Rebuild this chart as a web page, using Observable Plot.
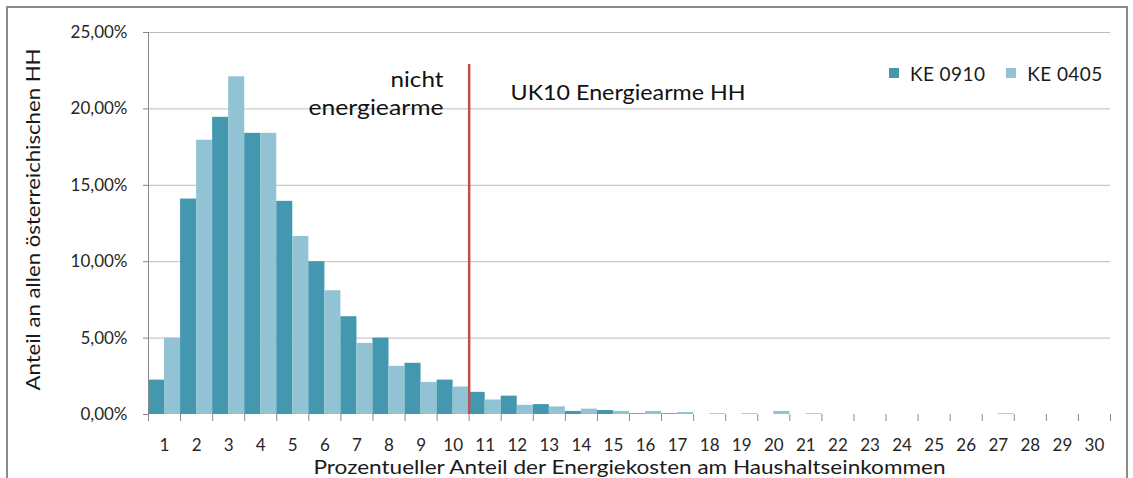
<!DOCTYPE html>
<html><head><meta charset="utf-8">
<script src="https://cdn.jsdelivr.net/npm/d3@7"></script>
<script src="https://cdn.jsdelivr.net/npm/@observablehq/plot@0.6"></script>
<style>
body{margin:0;background:#fff;font-family:Lato,sans-serif}
#wrap{position:relative;width:1133px;height:478px;overflow:hidden}
#frame{position:absolute;left:6px;top:6px;width:1122px;height:520px;border:2px solid #8a8a8a;box-sizing:border-box;pointer-events:none}
#legend{position:absolute;top:62px;left:889px;font-size:19px;letter-spacing:0.4px;color:#1a1a1a;display:flex;align-items:center;line-height:23px}
#legend .item{display:flex;align-items:center;margin-right:21px}
#legend .sw{width:10px;height:10px;margin-right:11px;position:relative;top:-1px}
svg{position:absolute;left:0;top:0}
</style></head>
<body><div id="wrap"><div id="frame"></div><div id="legend"></div></div>
<script>
const categories = [1,2,3,4,5,6,7,8,9,10,11,12,13,14,15,16,17,18,19,20,21,22,23,24,25,26,27,28,29,30];
const seriesNames = ["KE 0910","KE 0405"];
const seriesColors = ["#4398b0","#92c3d4"];
const ke0910 = [2.25,14.1,19.45,18.4,13.95,10.0,6.4,5.0,3.35,2.25,1.45,1.2,0.65,0.2,0.26,0.05,0.05,0,0,0,0,0,0,0,0,0,0,0,0,0];
const ke0405 = [5.0,17.95,22.1,18.4,11.65,8.1,4.65,3.15,2.1,1.8,0.95,0.6,0.5,0.35,0.2,0.2,0.13,0.05,0.05,0.2,0.05,0,0,0,0,0,0.05,0,0,0];
const yTicks = [0,5,10,15,20,25];
const threshold = 10;
const yTitle = "Anteil an allen österreichischen HH";
const xTitle = "Prozentueller Anteil der Energiekosten am Haushaltseinkommen";
const leftLabel = ["nicht", "energiearme"];
const rightLabel = "UK10 Energiearme HH";

// rendered text widths (px) of the stretched original lettering
const textWidths = {[xTitle]:632, [yTitle]:342, "nicht":53, "energiearme":135, [rightLabel]:235};

const data = categories.flatMap((c,i)=>[
  {cat:c, series:seriesNames[0], value:ke0910[i], k:0},
  {cat:c, series:seriesNames[1], value:ke0405[i], k:1}
]);

const fmt = d => d.toFixed(2).replace(".", ",") + "%";

const chart = Plot.plot({
  width:1133, height:478,
  marginLeft:148, marginRight:23, marginTop:32, marginBottom:64,
  style:{fontFamily:"Lato, sans-serif", fontSize:"17px", color:"#262626", background:"transparent"},
  x:{domain:[0,30]},
  y:{domain:[0,25]},
  color:{domain:seriesNames, range:seriesColors},
  marks:[
    Plot.gridY(yTicks.filter(d=>d>0), {stroke:"#bdbdbd", strokeOpacity:1}),
    Plot.rectY(data, {x1:d=>d.cat-1+d.k/2, x2:d=>d.cat-0.5+d.k/2, y:"value", fill:"series"}),
    Plot.ruleX([0], {stroke:"#888"}),
    Plot.axisY({ticks:yTicks, tickSize:5, tickPadding:16, tickFormat:fmt, stroke:"#888", label:null}),
    Plot.axisX({ticks:d3.range(0,31), tickSize:7, tickFormat:()=>"", stroke:"#888", label:null}),
    Plot.axisX({ticks:categories.map(c=>c-0.5), tickSize:0, tickPadding:24, tickFormat:d=>String(d+0.5), label:null}),
    Plot.text([yTitle], {frameAnchor:"left", rotate:-90, dx:-115, dy:-4, textAnchor:"middle", lineAnchor:"middle", fontSize:19, fill:"#1a1a1a"}),
    Plot.text([xTitle], {frameAnchor:"bottom", dy:53, textAnchor:"middle", lineAnchor:"middle", fontSize:19, fill:"#1a1a1a"}),
    Plot.ruleX([{x:threshold, y1:0, y2:22.9}], {x:"x", y1:"y1", y2:"y2", stroke:"#c0504d", strokeWidth:2.5}),
    Plot.text([{x:9.2, y:21.92, t:leftLabel[0]},{x:9.2, y:20.03, t:leftLabel[1]}], {x:"x", y:"y", text:"t", textAnchor:"end", lineAnchor:"middle", fontSize:22, fill:"#111"}),
    Plot.text([{x:11.29, y:21.07, t:rightLabel}], {x:"x", y:"y", text:"t", textAnchor:"start", lineAnchor:"middle", fontSize:22, fill:"#111"})
  ]
});
document.getElementById("wrap").prepend(chart);

chart.querySelectorAll("text").forEach(t=>{
  const w = textWidths[t.textContent];
  if (w) { t.setAttribute("textLength", w); t.setAttribute("lengthAdjust", "spacingAndGlyphs"); }
});

const legend = document.getElementById("legend");
seriesNames.forEach((n,i)=>{
  const it = document.createElement("div"); it.className="item";
  const sw = document.createElement("div"); sw.className="sw"; sw.style.background=seriesColors[i];
  const tx = document.createElement("span"); tx.textContent=n;
  it.append(sw, tx); legend.append(it);
});
</script>
</body></html>
